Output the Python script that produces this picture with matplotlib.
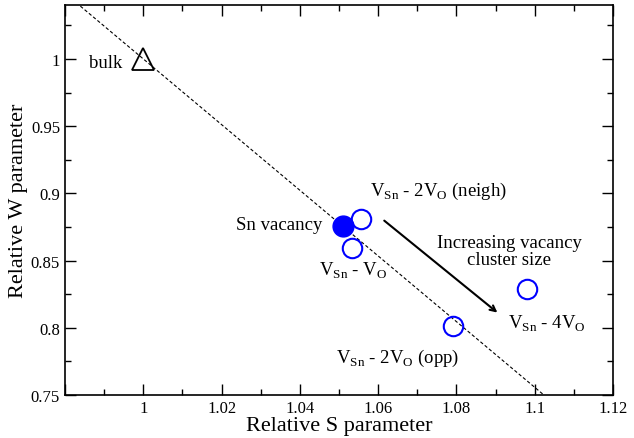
import matplotlib
matplotlib.use('Agg')
import matplotlib.pyplot as plt
from matplotlib.ticker import MultipleLocator, FuncFormatter

plt.rcParams['font.family'] = 'Liberation Serif'
plt.rcParams['mathtext.fontset'] = 'custom'
plt.rcParams['mathtext.rm'] = 'Liberation Serif'

# data
bulk_S, bulk_W = [1.0], [1.0]
snvac_S, snvac_W = [1.051], [0.876]
cluster_S = [1.0556, 1.0533, 1.0792, 1.0980]
cluster_W = [0.881, 0.8596, 0.8016, 0.829]
line_S = [0.97, 1.12]
line_W = [1.0733, 0.7068]

fig, ax = plt.subplots(figsize=(6.34, 4.39), dpi=100)
fig.subplots_adjust(left=0.1025, right=0.967, top=0.986, bottom=0.098)

ax.plot(line_S, line_W, 'k--', lw=0.8, dashes=(3, 2))
ax.plot(bulk_S, bulk_W, '^', ms=16, mfc='none', mec='k', mew=1.3)
ax.plot(cluster_S, cluster_W, 'o', ms=14, mfc='none', mec='#0000ff', mew=1.5, zorder=3)
ax.plot(snvac_S, snvac_W, 'o', ms=15, mfc='#0000ff', mec='#0000ff', zorder=4)

ax.annotate('', xy=(1.091, 0.810), xytext=(1.061, 0.881),
            arrowprops=dict(arrowstyle='->', color='k', lw=1.5))

fs = 13.5
ax.text(0.9946, 0.997, 'bulk', ha='right', va='center', fontsize=fs)
ax.text(1.0458, 0.877, 'Sn vacancy', ha='right', va='center', fontsize=fs)
ax.text(1.0578, 0.902, r'V$_{\rm Sn}$ - 2V$_{\rm O}$ (neigh)', ha='left', va='center', fontsize=fs)
ax.text(1.0449, 0.843, r'V$_{\rm Sn}$ - V$_{\rm O}$', ha='left', va='center', fontsize=fs)
ax.text(1.0935, 0.857, 'Increasing vacancy\ncluster size', ha='center', va='center',
        fontsize=fs, linespacing=1.0)
ax.text(1.0931, 0.804, r'V$_{\rm Sn}$ - 4V$_{\rm O}$', ha='left', va='center', fontsize=fs)
ax.text(1.0492, 0.778, r'V$_{\rm Sn}$ - 2V$_{\rm O}$ (opp)', ha='left', va='center', fontsize=fs)

ax.set_xlim(0.98, 1.12)
ax.set_ylim(0.75, 1.04)
ax.xaxis.set_major_locator(MultipleLocator(0.02))
ax.xaxis.set_minor_locator(MultipleLocator(0.01))
ax.yaxis.set_major_locator(MultipleLocator(0.05))
ax.yaxis.set_minor_locator(MultipleLocator(0.025))
# xmgrace style: no label at the left end of x axis
xfmt = FuncFormatter(lambda v, p: '' if v < 0.99 else '%g' % round(v, 4))
yfmt = FuncFormatter(lambda v, p: '%g' % round(v, 4))
ax.xaxis.set_major_formatter(xfmt)
ax.yaxis.set_major_formatter(yfmt)
ax.tick_params(which='both', direction='in', top=True, right=True, labelsize=12)
ax.tick_params(which='major', length=8, width=1)
ax.tick_params(which='minor', length=4, width=1)
for s in ax.spines.values():
    s.set_linewidth(1.2)

ax.set_xlabel('Relative S parameter', fontsize=16, labelpad=0)
ax.set_ylabel('Relative W parameter', fontsize=16, labelpad=2)

fig.savefig('out.png', dpi=100)
